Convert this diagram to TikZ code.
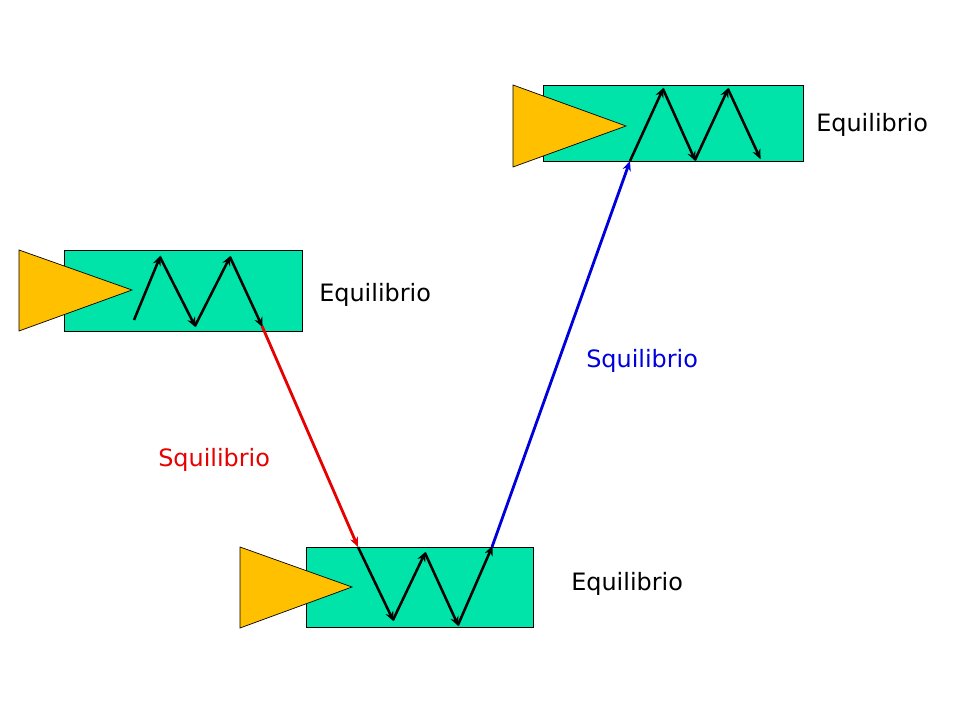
\documentclass[tikz,border=0pt]{standalone}
\usepackage{fontspec}
\setmainfont{DejaVu Sans}
\usetikzlibrary{arrows.meta, positioning}
\definecolor{boxgreen}{RGB}{0,228,170}
\definecolor{triyellow}{RGB}{255,192,0}
\definecolor{sqred}{RGB}{230,0,0}
\definecolor{sqblue}{RGB}{0,0,220}
\begin{document}
\begin{tikzpicture}[x=0.025cm, y=-0.025cm, >={Stealth[length=7pt,width=6pt]},
    box/.style={draw=black, fill=boxgreen, line width=0.5pt},
    tri/.style={draw=black, fill=triyellow, line width=0.5pt},
    zig/.style={->, line width=1.8pt, black, shorten >=-1pt},
    lab/.style={font=\fontsize{17}{20}\selectfont, anchor=west, inner sep=0pt}]
    \useasboundingbox (0,0) rectangle (960,720);

    % Left state
    \draw[box] (64,250) rectangle (302,331);
    \draw[tri] (19,250) -- (132,290) -- (19,331) -- cycle;
    \foreach \ptn/\ptx/\pty in {1/134/320, 2/160/257, 3/195/326, 4/230/257, 5/262/326}
        {\coordinate (a\ptn) at (\ptx,\pty);}
    \draw[zig] (a1) -- (a2);
    \draw[zig] (a2) -- (a3);
    \draw[zig] (a3) -- (a4);
    \draw[zig] (a4) -- (a5);
    \node[lab] (eqa) at (319,295) {Equilibrio};

    % Bottom state
    \draw[box] (306,547) rectangle (533,627);
    \draw[tri] (240,547) -- (352,587) -- (240,628) -- cycle;
    \foreach \ptn/\ptx/\pty in {1/358/547, 2/393/620, 3/425/553, 4/458/625, 5/492/547}
        {\coordinate (b\ptn) at (\ptx,\pty);}
    \draw[zig] (b1) -- (b2);
    \draw[zig] (b2) -- (b3);
    \draw[zig] (b3) -- (b4);
    \draw[zig] (b4) -- (b5);
    \node[lab] (eqb) at (571,584) {Equilibrio};

    % Top state
    \draw[box] (543,85) rectangle (803,161);
    \draw[tri] (513,85) -- (626,126) -- (513,167) -- cycle;
    \foreach \ptn/\ptx/\pty in {1/630/161, 2/663/89, 3/695/160, 4/728/89, 5/760/158}
        {\coordinate (c\ptn) at (\ptx,\pty);}
    \draw[zig] (c1) -- (c2);
    \draw[zig] (c2) -- (c3);
    \draw[zig] (c3) -- (c4);
    \draw[zig] (c4) -- (c5);
    \node[lab] (eqc) at (816,125) {Equilibrio};

    % Transitions
    \draw[->, sqred, line width=2pt] (a5) -- (b1);
    \draw[->, sqblue, line width=2pt] (b5) -- (c1);
    \node[lab, text=sqred] (sqa) at (158,460) {Squilibrio};
    \node[lab, text=sqblue] (sqb) at (586,361) {Squilibrio};
\end{tikzpicture}
\end{document}
